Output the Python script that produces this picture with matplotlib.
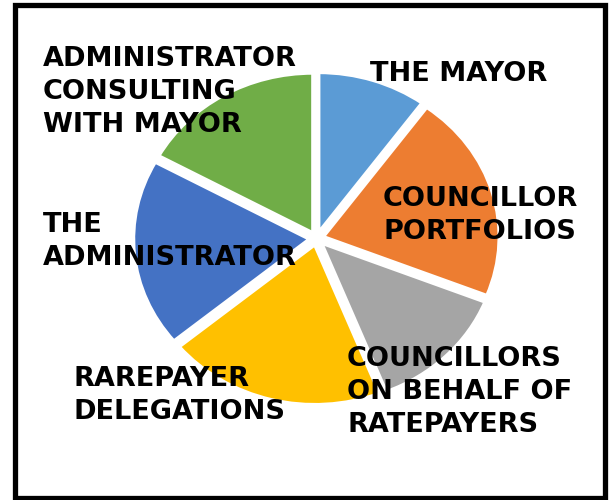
import matplotlib.pyplot as plt
from matplotlib.patches import Rectangle

# share of time / influence per group
labels = ["THE MAYOR", "COUNCILLOR\nPORTFOLIOS", "COUNCILLORS\nON BEHALF OF\nRATEPAYERS",
          "RAREPAYER\nDELEGATIONS", "THE\nADMINISTRATOR", "ADMINISTRATOR\nCONSULTING\nWITH MAYOR"]
values = [10, 21, 13, 20, 19, 17]
colors = ["#5B9BD5", "#ED7D31", "#A5A5A5", "#FFC000", "#4472C4", "#70AD47"]

# label anchor points in pixels (left, top of caps), image is 613x500
label_pos = [(370, 61), (383, 186), (347, 346), (73, 366), (43, 212), (43, 46)]

W, H = 613, 500
fig = plt.figure(figsize=(W / 100, H / 100), dpi=100)

# pie is slightly stretched horizontally in the original
cx, cy = 316.5, 261.5
rx, ry = 176, 160
ax = fig.add_axes([(cx - rx) / W, (cy - ry) / H, 2 * rx / W, 2 * ry / H])
ax.pie(values, colors=colors, startangle=90, counterclock=False,
       explode=[0.04] * len(values),
       wedgeprops=dict(edgecolor="white", linewidth=2.5))
ax.set_aspect("auto")
ax.set_xlim(-1, 1)
ax.set_ylim(-1, 1)
ax.axis("off")

for text, (px, py) in zip(labels, label_pos):
    fig.text(px / W, 1 - py / H, text, ha="left", va="top",
             fontsize=19.5, fontweight="bold", color="black",
             family="DejaVu Sans", linespacing=1.35)

# black frame around the picture
fig.patches.append(Rectangle((14.5 / W, 2.5 / H), 590 / W, 492.5 / H,
                             transform=fig.transFigure, fill=False,
                             edgecolor="black", linewidth=3.8))

fig.savefig("out.png", dpi=100)
